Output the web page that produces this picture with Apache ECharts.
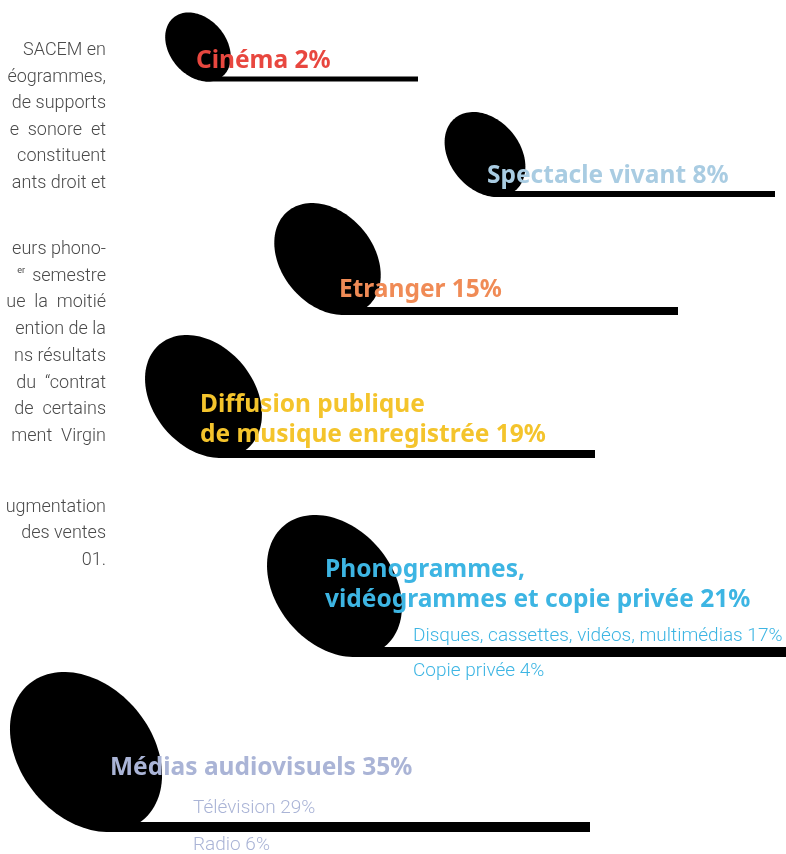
<!DOCTYPE html>
<html>
<head>
<meta charset="utf-8">
<script src="https://cdn.jsdelivr.net/npm/echarts@6/dist/echarts.min.js"></script>
<style>
  html, body { margin: 0; padding: 0; background: #fff; }
  #chart { width: 786px; height: 854px; }
</style>
</head>
<body>
<div id="chart"></div>
<script>
// répartition des droits par origine
const categories = ['Cinéma', 'Spectacle vivant', 'Etranger', 'Diffusion publique\nde musique enregistrée', 'Phonogrammes,\nvidéogrammes et copie privée', 'Médias audiovisuels'];
const shares = [2, 8, 15, 19, 21, 35];
const colors = ['#e8473f', '#a9cce2', '#f08b56', '#f4c42c', '#3db5e3', '#aab4d6'];

// détails
const phonoDetails = ['Disques, cassettes, vidéos, multimédias', 'Copie privée'];
const phonoShares = [17, 4];
const mediaDetails = ['Télévision', 'Radio'];
const mediaShares = [29, 6];

// texte coupé à gauche
const introLines = ['SACEM en', 'éogrammes,', 'de supports', 'e  sonore  et', 'constituent', 'ants droit et',
  'eurs phono-', 'semestre', 'ue  la  moitié', 'ention de la', 'ns résultats', 'du  “contrat', 'de  certains', 'ment  Virgin',
  'ugmentation', 'des ventes', '01.'];
const introY = [50, 77, 103, 130, 156, 183, 249, 276, 302, 329, 356, 383, 409, 436, 507, 533, 560];

// mise en page des notes (unités = px)
const headX = [198, 485, 327.5, 203.5, 334.5, 86];
const headY = [47, 154.5, 259, 396.5, 586, 752];
const headHalfHeight = [34.5, 42.5, 56, 61.5, 71, 80];
const stemEnd = [418, 775, 678, 595, 786, 590];
const stemWidth = [5, 6, 8, 8, 10, 10];
const labelX = [196, 487, 339, 200, 325, 110];
const labelY = [61, 176, 290, 420, 585, 768];
const detailX = { 4: 413, 5: 193 };
const detailY = { 4: [636, 671], 5: [808, 845] };
const details = { 4: [phonoDetails, phonoShares], 5: [mediaDetails, mediaShares] };

const tilt = 40 * Math.PI / 180;
const headRatio = 0.74;

const chart = echarts.init(document.getElementById('chart'));

function renderNote(params, api) {
  const i = params.dataIndex;
  const c = api.coord([headX[i], headY[i]]);
  const s = Math.sin(tilt), co = Math.cos(tilt);
  const wy = api.size([0, headHalfHeight[i]])[1];
  const a = wy / Math.sqrt(co * co + headRatio * headRatio * s * s);
  const b = a * headRatio;
  const pts = [];
  for (let k = 0; k < 120; k++) {
    const t = k / 120 * Math.PI * 2;
    const u = b * Math.cos(t), v = a * Math.sin(t);
    pts.push([c[0] + u * co - v * s, c[1] - u * s - v * co]);
  }
  const bottom = c[1] + wy;
  const bottomX = c[0] + (a * a - b * b) * s * co / wy;
  const end = api.coord([stemEnd[i], 0])[0];
  const w = stemWidth[i];

  const children = [
    { type: 'polygon', shape: { points: pts }, style: { fill: '#000' }, z2: 1 },
    { type: 'rect', shape: { x: bottomX - 2, y: bottom - w, width: end - bottomX + 2, height: w }, style: { fill: '#000' }, z2: 1 },
    {
      type: 'text', z2: 10,
      style: {
        text: categories[i] + ' ' + shares[i] + '%',
        x: labelX[i], y: labelY[i],
        align: 'left', verticalAlign: 'middle', textAlign: 'left', textVerticalAlign: 'middle',
        fill: colors[i], fontSize: 24.5, fontWeight: 'bold', fontFamily: 'Noto Sans', lineHeight: 30
      }
    }
  ];
  if (details[i]) {
    details[i][0].forEach((name, j) => {
      children.push({
        type: 'text', z2: 10,
        style: {
          text: name + ' ' + details[i][1][j] + '%',
          x: detailX[i], y: detailY[i][j],
          align: 'left', verticalAlign: 'middle', textAlign: 'left', textVerticalAlign: 'middle',
          fill: colors[i], fontSize: 19, fontWeight: 300, fontFamily: 'Roboto'
        }
      });
    });
  }
  return { type: 'group', children: children };
}

const option = {
  animation: false,
  grid: { left: 0, right: 0, top: 0, bottom: 0 },
  xAxis: { type: 'value', min: 0, max: 786, show: false },
  yAxis: { type: 'value', min: 0, max: 854, inverse: true, show: false },
  graphic: introLines.map((t, i) => ({
    type: 'text',
    style: {
      text: t, x: 106, y: introY[i],
      align: 'right', verticalAlign: 'middle', textAlign: 'right', textVerticalAlign: 'middle',
      fill: '#4a4a4a', fontSize: 18, fontWeight: 300, fontFamily: 'Roboto'
    }
  })).concat([{
    type: 'text',
    style: {
      text: 'er', x: 25, y: 271, align: 'right', verticalAlign: 'middle',
      textAlign: 'right', textVerticalAlign: 'middle',
      fill: '#4a4a4a', fontSize: 9, fontFamily: 'Roboto'
    }
  }]),
  series: [{
    type: 'custom',
    renderItem: renderNote,
    data: shares.map((v, i) => [headX[i], headY[i], v]),
    silent: true
  }]
};

chart.setOption(option);
window.addEventListener('resize', () => chart.resize());
</script>
</body>
</html>
